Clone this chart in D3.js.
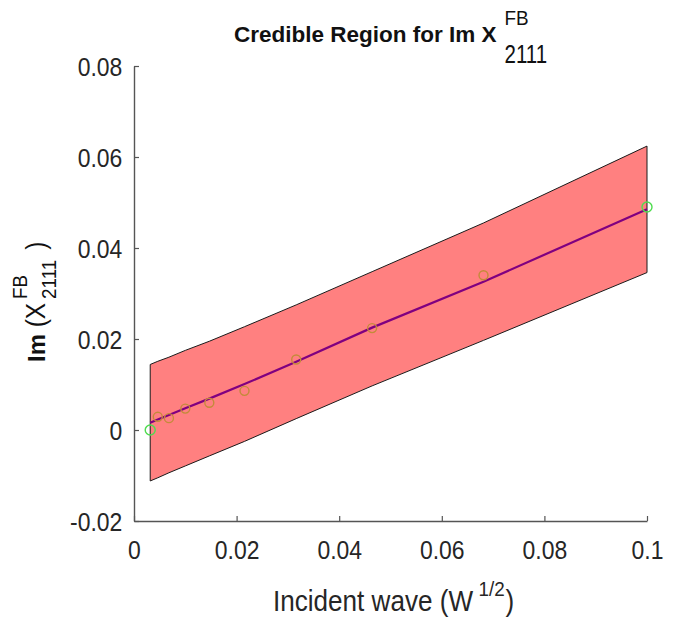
<!DOCTYPE html>
<html>
<head>
<meta charset="utf-8">
<script src="https://cdn.jsdelivr.net/npm/d3@7"></script>
<style>
  html, body { margin: 0; padding: 0; background: #fff; }
  svg { display: block; }
</style>
</head>
<body>
<svg id="chart" width="680" height="624"></svg>
<script>
// Sample positions (incident wave amplitude, W^1/2)
const sampleX = [0.00316, 0.00464, 0.00681, 0.0100, 0.01468, 0.02154, 0.03162, 0.04642, 0.06813, 0.1000];
// Posterior mean of Im X^FB_2111 at each sample
const fitMean = [0.0016, 0.0023, 0.0033, 0.0048, 0.0069, 0.0101, 0.0150, 0.0225, 0.0326, 0.0485];
// Credible band edges
const bandUpper = [0.0144, 0.0151, 0.0160, 0.0175, 0.0195, 0.0227, 0.0275, 0.0348, 0.0455, 0.0624];
const bandLower = [-0.0112, -0.0105, -0.0094, -0.0079, -0.0057, -0.0025, 0.0025, 0.0097, 0.0197, 0.0346];
// Measured values (interior points)
const obsX = [0.00464, 0.00681, 0.0100, 0.01468, 0.02154, 0.03162, 0.04642, 0.06813];
const obsY = [0.0029, 0.0026, 0.0047, 0.0060, 0.0086, 0.0155, 0.0224, 0.0340];
// Measured values (end points)
const endX = [0.00316, 0.1000];
const endY = [0.0000, 0.0490];
// Axis ticks
const xTicks = [0, 0.02, 0.04, 0.06, 0.08, 0.1];
const xTickLabels = ["0", "0.02", "0.04", "0.06", "0.08", "0.1"];
const yTicks = [-0.02, 0, 0.02, 0.04, 0.06, 0.08];
const yTickLabels = ["-0.02", "0", "0.02", "0.04", "0.06", "0.08"];

const FONT = "'Liberation Sans', Arial, sans-serif";
const SQUEEZE = 0.9; // condensed look for the axis text

const svg = d3.select("#chart");
const x = d3.scaleLinear().domain([0, 0.1]).range([134, 647]);
const y = d3.scaleLinear().domain([-0.02, 0.08]).range([521, 66]);
const cx = (x(0) + x(0.1)) / 2;

// Credible region polygon
const bandPts = sampleX.map((d, i) => [d, bandUpper[i]])
  .concat(sampleX.map((d, i) => [d, bandLower[i]]).reverse());
const polyLine = d3.line().x(p => x(p[0])).y(p => y(p[1]));
svg.append("path")
  .datum(bandPts)
  .attr("d", d => polyLine(d) + "Z")
  .attr("fill", "#ff8080")
  .attr("stroke", "#1a1a1a")
  .attr("stroke-width", 1);

// Posterior mean curve
svg.append("path")
  .datum(sampleX.map((d, i) => [d, fitMean[i]]))
  .attr("d", polyLine)
  .attr("fill", "none")
  .attr("stroke", "#800080")
  .attr("stroke-width", 2.2);

// Observations
svg.append("g").selectAll("circle")
  .data(obsX.map((d, i) => [d, obsY[i]]))
  .join("circle")
  .attr("cx", d => x(d[0])).attr("cy", d => y(d[1])).attr("r", 4.5)
  .attr("fill", "none").attr("stroke", "#c48a3a").attr("stroke-width", 1.4);

svg.append("g").selectAll("circle")
  .data(endX.map((d, i) => [d, endY[i]]))
  .join("circle")
  .attr("cx", d => x(d[0])).attr("cy", d => y(d[1])).attr("r", 5)
  .attr("fill", "none").attr("stroke", "#4fdc4f").attr("stroke-width", 1.4);

// Axes (ticks point inward)
const axisColor = "#555";
const gx = svg.append("g").attr("transform", `translate(0,${y(-0.02)})`)
  .call(d3.axisBottom(x).tickValues(xTicks).tickFormat((d, i) => xTickLabels[i])
    .tickSizeInner(-5).tickSizeOuter(0).tickPadding(20));
const gy = svg.append("g").attr("transform", `translate(${x(0)},0)`)
  .call(d3.axisLeft(y).tickValues(yTicks).tickFormat((d, i) => yTickLabels[i])
    .tickSizeInner(-5).tickSizeOuter(0).tickPadding(13));
[gx, gy].forEach(g => {
  g.select(".domain").attr("stroke", axisColor).attr("stroke-width", 1.4);
  g.selectAll(".tick line").attr("stroke", axisColor).attr("stroke-width", 1.2);
  g.selectAll(".tick text").attr("fill", "#262626")
    .attr("transform", `scale(${SQUEEZE},1)`)
    .style("font-family", FONT).style("font-size", "25.5px");
});
gx.selectAll(".tick text").attr("dy", "0.71em");
gy.selectAll(".tick text").attr("dy", "0.36em");

// Title: Credible Region for Im X^FB_2111
const tg = svg.append("g");
const tMain = tg.append("text").attr("x", 0).attr("y", 42).attr("fill", "#111")
  .text("Credible Region for Im X")
  .style("font-family", FONT).style("font-weight", "bold").style("font-size", "22.5px");
const mainW = tMain.node().getComputedTextLength();
const tSup = tg.append("text").attr("transform", `translate(${mainW + 8},25) scale(${SQUEEZE},1)`)
  .attr("fill", "#111").text("FB")
  .style("font-family", FONT).style("font-size", "21px");
const tSub = tg.append("text").attr("transform", `translate(${mainW + 8},63) scale(0.82,1)`)
  .attr("fill", "#111").text("2111")
  .style("font-family", FONT).style("font-size", "25px");
const scriptW = Math.max(tSup.node().getComputedTextLength() * SQUEEZE, tSub.node().getComputedTextLength() * 0.82);
tg.attr("transform", `translate(${cx - (mainW + 8 + scriptW) / 2},0)`);

// X axis label: Incident wave (W^1/2)
const xg = svg.append("g");
const xl = xg.append("text").attr("x", 0).attr("y", 0).attr("fill", "#262626")
  .style("font-family", FONT).style("font-size", "29px");
xl.append("tspan").text("Incident wave (W");
xl.append("tspan").text("1/2").attr("dx", 6).attr("dy", -15).style("font-size", "21px");
xl.append("tspan").text(")").attr("dx", 1).attr("dy", 15);
const xlW = xl.node().getComputedTextLength() * SQUEEZE;
xg.attr("transform", `translate(${cx - xlW / 2},611) scale(${SQUEEZE},1)`);

// Y axis label: Im (X^FB_2111 )
const yg = svg.append("g").attr("transform", "translate(45,362) rotate(-90)");
const yl1 = yg.append("text").attr("x", 0).attr("y", 0).attr("fill", "#111")
  .text("Im").style("font-family", FONT).style("font-weight", "bold").style("font-size", "24px");
const imW = yl1.node().getComputedTextLength();
const yl2 = yg.append("text").attr("transform", `translate(${imW},0) scale(${SQUEEZE},1)`).attr("fill", "#111")
  .text("\u00a0(X").style("font-family", FONT).style("font-size", "27px");
const ylBase = imW + yl2.node().getComputedTextLength() * SQUEEZE + 4;
const yl3 = yg.append("text").attr("transform", `translate(${ylBase},-18) scale(${SQUEEZE},1)`).attr("fill", "#111")
  .text("FB").style("font-family", FONT).style("font-size", "21px");
const yl4 = yg.append("text").attr("transform", `translate(${ylBase},11) scale(${SQUEEZE},1)`).attr("fill", "#111")
  .text("2111").style("font-family", FONT).style("font-size", "21px");
const ylSub = Math.max(yl3.node().getComputedTextLength(), yl4.node().getComputedTextLength()) * SQUEEZE;
yg.append("text").attr("transform", `translate(${ylBase + ylSub + 10},0) scale(${SQUEEZE},1)`).attr("fill", "#111")
  .text(")").style("font-family", FONT).style("font-size", "27px");
</script>
</body>
</html>
